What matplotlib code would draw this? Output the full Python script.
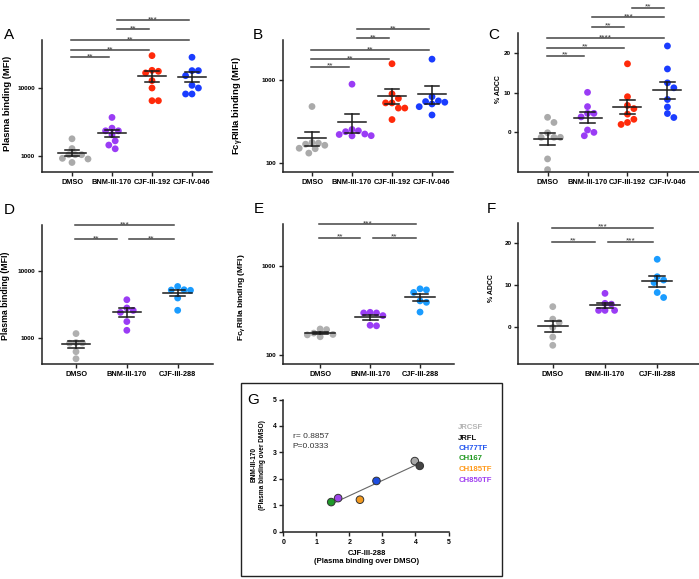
import numpy as np
import matplotlib
matplotlib.use('Agg')
import matplotlib.pyplot as plt
from matplotlib import transforms
from matplotlib.patches import Rectangle
from matplotlib.ticker import FixedLocator, NullLocator

plt.rcParams['font.family'] = ['Liberation Sans', 'DejaVu Sans']
plt.rcParams['mathtext.default'] = 'regular'

W, H = 699, 579

# ---- data ----
groups_abc = ['DMSO', 'BNM-III-170', 'CJF-III-192', 'CJF-IV-046']
groups_def = ['DMSO', 'BNM-III-170', 'CJF-III-288']

# A: plasma binding (MFI)
a_dmso = [1780, 1280, 1040, 1040, 1040, 920, 900, 800]
a_bnm = [3660, 2550, 2330, 2330, 2040, 1660, 1440, 1270]
a_192 = [29500, 17960, 17380, 16450, 12680, 9890, 6440, 6440]
a_046 = [27900, 17780, 17780, 15010, 10810, 9890, 8080, 8080]

# B: FcgRIIIa binding (MFI)
b_dmso = [480, 178, 175, 170, 165, 152, 150, 133]
b_bnm = [888, 255, 246, 240, 225, 222, 215, 214]
b_192 = [1560, 680, 600, 530, 530, 460, 460, 335]
b_046 = [1770, 630, 560, 550, 540, 515, 478, 380]

# C: % ADCC
c_dmso = [3.8, 2.5, -0.1, -1.25, -1.25, -1.25, -6.7, -9.4]
c_bnm = [10.1, 6.5, 4.8, 4.8, 3.9, 0.6, 0.0, -0.85]
c_192 = [17.3, 9.0, 6.8, 6.0, 4.6, 3.3, 2.5, 2.0]
c_046 = [21.8, 16.0, 12.5, 11.25, 8.3, 6.4, 4.75, 3.75]

# D: plasma binding (MFI)
d_dmso = [1160, 850, 840, 830, 620, 485]
d_bnm = [3750, 2820, 2590, 2420, 1760, 1300]
d_288 = [5940, 5300, 5250, 5200, 3980, 2600]

# E: FcgRIIIa binding (MFI)
e_dmso = [198, 195, 178, 172, 170, 162]
e_bnm = [305, 300, 300, 280, 218, 215]
e_288 = [560, 545, 510, 410, 395, 307]

# F: % ADCC
f_dmso = [4.8, 1.8, 1.0, -0.2, -2.5, -4.5]
f_bnm = [8.0, 5.6, 5.4, 3.9, 3.9, 3.9]
f_288 = [16.2, 12.0, 11.2, 10.6, 8.2, 7.0]

# significance brackets (group i, group j, label)
sig_a = [(0, 1, '**'), (0, 2, '**'), (0, 3, '**'), (1, 2, '**'), (1, 3, '***')]
sig_b = [(0, 1, '**'), (0, 2, '**'), (0, 3, '**'), (1, 2, '**'), (1, 3, '**')]
sig_c = [(0, 1, '**'), (0, 2, '**'), (0, 3, '****'), (1, 2, '**'), (1, 3, '***'), (2, 3, '**')]
sig_d = [(0, 1, '**'), (1, 2, '**'), (0, 2, '***')]
sig_e = [(0, 1, '**'), (1, 2, '**'), (0, 2, '***')]
sig_f = [(0, 1, '**'), (1, 2, '***'), (0, 2, '***')]

# G: fold change over DMSO
g_strains = ['JRCSF', 'JRFL', 'CH77TF', 'CH167', 'CH185TF', 'CH850TF']
g_cjf288 = [3.98, 4.13, 2.82, 1.45, 2.32, 1.66]
g_bnm170 = [2.67, 2.49, 1.92, 1.12, 1.21, 1.27]
g_r, g_p = 0.8857, 0.0333

# ---- style ----
GRAY, PURPLE, RED, BLUE, LBLUE = '#aaaaaa', '#9a3cf5', '#ff2a0a', '#1a3cff', '#1a9cff'
cols_abc = [GRAY, PURPLE, RED, BLUE]
cols_def = ['#b0b0b0', PURPLE, LBLUE]
g_colors = ['#a8a8a8', '#444444', '#1e4de0', '#1f9a2a', '#f39a20', '#9b45e8']
g_text_colors = ['#b4b4b4', '#111111', '#2255ee', '#229922', '#ff9a1a', '#a040f0']

fig = plt.figure(figsize=(W / 100, H / 100), dpi=100)


def px_axes(left, right, top, bottom):
    return fig.add_axes([left / W, 1 - bottom / H, (right - left) / W, (bottom - top) / H])


def swarm(ax, x0, vals, d):
    # simple beeswarm in display space
    pts = ax.transData.transform(np.column_stack([np.full(len(vals), float(x0)), vals]))
    placed = []
    for px, py in pts:
        for k in range(40):
            off = ((k + 1) // 2) * d * 0.5 * (1 if k % 2 else -1)
            cx = px + off
            if all(np.hypot(cx - qx, py - qy) >= d * 0.98 for qx, qy in placed):
                break
        placed.append((cx, py))
    return ax.transData.inverted().transform(np.array(placed))[:, 0]


def dot_panel(ax, groups, data, colors, ylog, ylim, yticks, xlim, sig, levels,
              ylabel, ylab_xy, ylab_size, mean_hw, cap_hw, shift):
    if ylog:
        ax.set_yscale('log')
    ax.set_ylim(*ylim)
    ax.set_xlim(*xlim)
    ax.yaxis.set_major_locator(FixedLocator(yticks))
    ax.yaxis.set_minor_locator(NullLocator())
    ax.set_yticklabels([str(t) for t in yticks], fontweight='bold', fontsize=4.6)
    ax.set_xticks(range(len(groups)))
    ax.set_xticklabels(groups, fontweight='bold', fontsize=5.3)
    ax.tick_params(length=3, width=1, pad=2, color='#222222')
    for s in ['top', 'right']:
        ax.spines[s].set_visible(False)
    for s in ['left', 'bottom']:
        ax.spines[s].set_linewidth(1.1)
        ax.spines[s].set_color('#222222')
    ax.set_ylabel(ylabel, fontweight='bold', fontsize=ylab_size)
    ax.yaxis.set_label_coords(*ylab_xy)
    ax.yaxis.label.set_verticalalignment('center')

    for i, (vals, c) in enumerate(zip(data, colors)):
        v = np.sort(np.array(vals, float))[::-1]
        xs = swarm(ax, i, v, 6.4)
        ax.scatter(xs, v, s=24, color=c, edgecolors='none', zorder=2)
        m = v.mean()
        sem = v.std(ddof=1) / np.sqrt(len(v))
        ax.plot([i - mean_hw, i + mean_hw], [m, m], color='#1a1a1a', lw=1.1, zorder=3)
        ax.plot([i, i], [m - sem, m + sem], color='#1a1a1a', lw=1.1, zorder=3)
        for e in (m - sem, m + sem):
            ax.plot([i - cap_hw, i + cap_hw], [e, e], color='#1a1a1a', lw=1.1, zorder=3)

    tr = transforms.blended_transform_factory(ax.transData, ax.transAxes)
    for (i, j, lab), lv in zip(sig, levels):
        shared = any(k == j and lv2 == lv for (k, _, _), lv2 in zip(sig, levels))
        x1 = i - 0.02 if i == 0 else i + shift
        x2 = j - 0.08 - (0.12 if shared else 0)
        ax.plot([x1, x2], [lv, lv], transform=tr, clip_on=False, color='#444444', lw=1.1)
        ax.annotate(lab, ((x1 + x2) / 2, lv), xycoords=tr, xytext=(0, -0.8),
                    textcoords='offset points', ha='center', va='baseline',
                    fontsize=6, color='#333333', annotation_clip=False)


ax_a = px_axes(42, 212, 40, 172)
dot_panel(ax_a, groups_abc, [a_dmso, a_bnm, a_192, a_046], cols_abc, True, (580, 50000),
          [1000, 10000], (-0.75, 3.5), sig_a, [0.871, 0.924, 1.0, 1.083, 1.152],
          'Plasma binding (MFI)', (-0.203, 0.52), 6.8, 0.35, 0.18, 0.12)

ax_b = px_axes(283, 453, 40, 172)
dot_panel(ax_b, groups_abc, [b_dmso, b_bnm, b_192, b_046], cols_abc, True, (79, 3000),
          [100, 1000], (-0.725, 3.525), sig_b, [0.798, 0.856, 0.924, 1.013, 1.083],
          r'Fc$_{\gamma}$RIIIa binding (MFI)', (-0.263, 0.5), 6.8, 0.35, 0.18, 0.12)

ax_c = px_axes(518, 699, 33.3, 172)
dot_panel(ax_c, groups_abc, [c_dmso, c_bnm, c_192, c_046], cols_abc, False, (-10, 25),
          [0, 10, 20], (-0.74, 3.79), sig_c, [0.839, 0.896, 0.964, 1.048, 1.115, 1.185],
          '% ADCC', (-0.109, 0.6), 5.0, 0.35, 0.18, 0.12)

ax_d = px_axes(41.7, 213, 225, 364.3)
dot_panel(ax_d, groups_def, [d_dmso, d_bnm, d_288], cols_def, True, (400, 50000),
          [1000, 10000], (-0.675, 2.695), sig_d, [0.899, 0.899, 1.0],
          'Plasma binding (MFI)', (-0.214, 0.49), 6.3, 0.28, 0.15, 0.05)

ax_e = px_axes(282.7, 454, 224, 364)
dot_panel(ax_e, groups_def, [e_dmso, e_bnm, e_288], cols_def, True, (80, 3000),
          [100, 1000], (-0.75, 2.68), sig_e, [0.902, 0.902, 1.0],
          r'Fc$_{\gamma}$RIIIa binding (MFI)', (-0.239, 0.48), 6.0, 0.3, 0.15, 0.05)

ax_f = px_axes(518.3, 699, 222.7, 364)
dot_panel(ax_f, groups_def, [f_dmso, f_bnm, f_288], cols_def, False, (-9, 25),
          [0, 10, 20], (-0.66, 2.8), sig_f, [0.866, 0.866, 0.965],
          '% ADCC', (-0.147, 0.536), 5.0, 0.29, 0.15, 0.05)

# ---- panel G ----
fig.add_artist(Rectangle((241 / W, 1 - 576 / H), (502 - 241) / W, (576 - 383) / H,
                         transform=fig.transFigure, fill=False, lw=1.0, ec='#222222'))
ax_g = px_axes(283.3, 448.5, 399.5, 531.7)
ax_g.set_xlim(0, 5)
ax_g.set_ylim(0, 5)
ax_g.set_xticks(range(6))
ax_g.set_yticks(range(6))
ax_g.set_xticklabels([str(t) for t in range(6)], fontweight='bold', fontsize=5)
ax_g.set_yticklabels([str(t) for t in range(6)], fontweight='bold', fontsize=5)
ax_g.tick_params(length=3, width=1, pad=2, color='#222222')
for s in ['top', 'right']:
    ax_g.spines[s].set_visible(False)
for s in ['left', 'bottom']:
    ax_g.spines[s].set_linewidth(1.1)
    ax_g.spines[s].set_color('#222222')
ax_g.set_xlabel('CJF-III-288\n(Plasma binding over DMSO)', fontweight='bold', fontsize=5.5,
                linespacing=1.1)
ax_g.xaxis.set_label_coords(0.505, -0.197)
ax_g.xaxis.label.set_verticalalignment('center')
ax_g.set_ylabel('BNM-III-170\n(Plasma binding over DMSO)', fontweight='bold', fontsize=4.7,
                linespacing=1.1)
ax_g.yaxis.set_label_coords(-0.151, 0.505)
ax_g.yaxis.label.set_verticalalignment('center')

gx = np.array(g_cjf288)
gy = np.array(g_bnm170)
k, b0 = np.polyfit(gx, gy, 1)
xx = np.array([gx.min(), gx.max()])
ax_g.plot(xx, k * xx + b0, color='#666666', lw=0.8, zorder=1)
ax_g.scatter(gx, gy, s=30, c=g_colors, edgecolors='#333333', linewidths=0.7, zorder=3,
             clip_on=False)
ax_g.text(0.28, 3.53, f'r= {g_r}', fontsize=6, color='#333333')
ax_g.text(0.28, 3.15, f'P={g_p}', fontsize=6, color='#333333')
for n, (name, c) in enumerate(zip(g_strains, g_text_colors)):
    fig.text(458.3 / W, 1 - (429 + n * 10.5) / H, name, color=c, fontsize=5.6,
             fontweight='bold', va='baseline')

# panel letters
for lab, (x, y) in zip('ABCDEFG', [(4, 39), (253, 39), (488, 39), (4, 214),
                                   (254, 212.7), (486.7, 213.3), (247.7, 404)]):
    fig.text(x / W, 1 - y / H, lab, fontsize=11, va='baseline', ha='left')

plt.savefig('out.png', dpi=100)
